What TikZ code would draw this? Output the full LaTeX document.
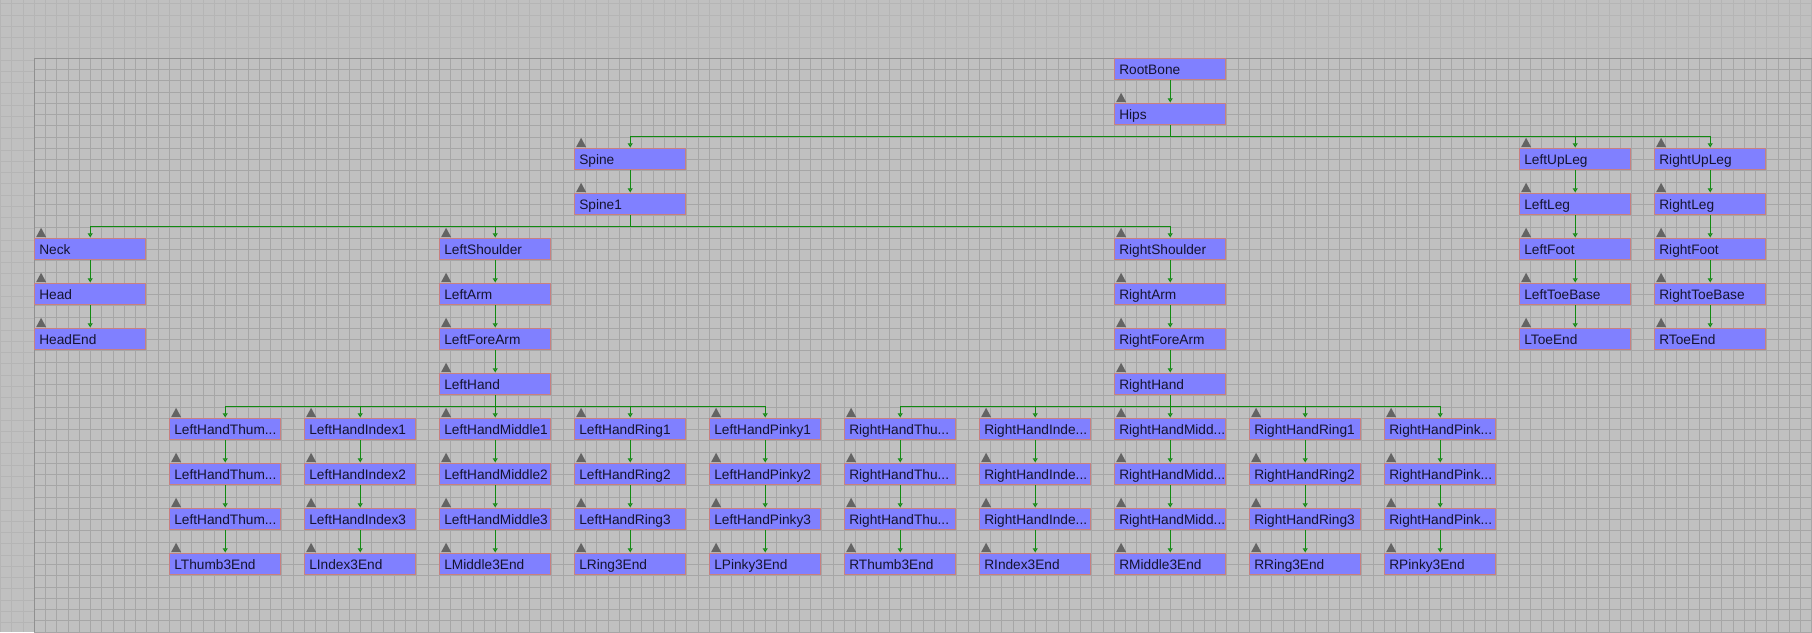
\documentclass[tikz,border=0pt]{standalone}
\usepackage{fontspec}
\setmainfont{Liberation Sans}
\usetikzlibrary{arrows.meta,calc}
\definecolor{bgcol}{HTML}{C0C0C0}
\definecolor{outergrid}{HTML}{B5B5B5}
\definecolor{innergrid}{HTML}{A6A6A6}
\definecolor{bordercol}{HTML}{909090}
\definecolor{bonefill}{HTML}{8080FF}
\definecolor{bonedraw}{HTML}{C88080}
\definecolor{bonetext}{HTML}{141430}
\definecolor{markcol}{HTML}{646464}
\definecolor{linkcol}{HTML}{108A10}
\newcommand\bone[4]{\node[bonebox] (#1) at ({34.3+135*#2},{-58.3-45*#3}) {#4};}
\tikzset{
  bonebox/.style={draw=bonedraw, fill=bonefill, line width=1pt, rectangle, anchor=north west,
    minimum width=110.8pt, minimum height=21pt, inner ysep=0pt, inner xsep=4.5pt,
    text width=101.8pt, align=left, text height=10.3pt, text depth=0pt,
    text=bonetext, font=\fontsize{13.7}{16}\selectfont},
  link/.style={draw=linkcol, line width=1pt, -{Triangle[open, length=4pt, width=5pt]}, shorten >=1pt},
  bonemark/.style={fill=markcol}
}
\begin{document}
\begin{tikzpicture}[x=1pt,y=1pt]
\useasboundingbox (0,0) rectangle (1812,-632);
\fill[bgcol] (0,0) rectangle (1812,-632);
% outer grid
\foreach \i in {0,...,161} \draw[outergrid, line width=0.9pt] ({0.55+11.25*\i},0) -- ({0.55+11.25*\i},-632);
\foreach \j in {0,...,56} \draw[outergrid, line width=0.9pt] (0,{-3.7-11.25*\j}) -- (1812,{-3.7-11.25*\j});
% inner area
\fill[bgcol] (34.3,-58.3) rectangle (1812,-632);
\foreach \i in {0,...,158} \draw[innergrid, line width=0.9pt] ({34.3+11.25*\i},-58.3) -- ({34.3+11.25*\i},-632);
\foreach \j in {0,...,51} \draw[innergrid, line width=0.9pt] (34.3,{-58.3-11.25*\j}) -- (1812,{-58.3-11.25*\j});
\draw[bordercol, line width=1.2pt] (34.3,-632) -- (34.3,-58.3) -- (1812,-58.3);
% bones
\bone{RootBone}{8}{0}{RootBone}
\bone{Hips}{8}{1}{Hips}
\bone{Spine}{4}{2}{Spine}
\bone{Spine1}{4}{3}{Spine1}
\bone{LeftUpLeg}{11}{2}{LeftUpLeg}
\bone{LeftLeg}{11}{3}{LeftLeg}
\bone{LeftFoot}{11}{4}{LeftFoot}
\bone{LeftToeBase}{11}{5}{LeftToeBase}
\bone{LToeEnd}{11}{6}{LToeEnd}
\bone{RightUpLeg}{12}{2}{RightUpLeg}
\bone{RightLeg}{12}{3}{RightLeg}
\bone{RightFoot}{12}{4}{RightFoot}
\bone{RightToeBase}{12}{5}{RightToeBase}
\bone{RToeEnd}{12}{6}{RToeEnd}
\bone{Neck}{0}{4}{Neck}
\bone{Head}{0}{5}{Head}
\bone{HeadEnd}{0}{6}{HeadEnd}
\bone{LeftShoulder}{3}{4}{LeftShoulder}
\bone{LeftArm}{3}{5}{LeftArm}
\bone{LeftForeArm}{3}{6}{LeftForeArm}
\bone{LeftHand}{3}{7}{LeftHand}
\bone{RightShoulder}{8}{4}{RightShoulder}
\bone{RightArm}{8}{5}{RightArm}
\bone{RightForeArm}{8}{6}{RightForeArm}
\bone{RightHand}{8}{7}{RightHand}
% left fingers
\bone{LThumbA}{1}{8}{LeftHandThum...}
\bone{LThumbB}{1}{9}{LeftHandThum...}
\bone{LThumbC}{1}{10}{LeftHandThum...}
\bone{LThumbE}{1}{11}{LThumb3End}
\bone{LIndexA}{2}{8}{LeftHandIndex1}
\bone{LIndexB}{2}{9}{LeftHandIndex2}
\bone{LIndexC}{2}{10}{LeftHandIndex3}
\bone{LIndexE}{2}{11}{LIndex3End}
\bone{LMiddleA}{3}{8}{LeftHandMiddle1}
\bone{LMiddleB}{3}{9}{LeftHandMiddle2}
\bone{LMiddleC}{3}{10}{LeftHandMiddle3}
\bone{LMiddleE}{3}{11}{LMiddle3End}
\bone{LRingA}{4}{8}{LeftHandRing1}
\bone{LRingB}{4}{9}{LeftHandRing2}
\bone{LRingC}{4}{10}{LeftHandRing3}
\bone{LRingE}{4}{11}{LRing3End}
\bone{LPinkyA}{5}{8}{LeftHandPinky1}
\bone{LPinkyB}{5}{9}{LeftHandPinky2}
\bone{LPinkyC}{5}{10}{LeftHandPinky3}
\bone{LPinkyE}{5}{11}{LPinky3End}
% right fingers
\bone{RThumbA}{6}{8}{RightHandThu...}
\bone{RThumbB}{6}{9}{RightHandThu...}
\bone{RThumbC}{6}{10}{RightHandThu...}
\bone{RThumbE}{6}{11}{RThumb3End}
\bone{RIndexA}{7}{8}{RightHandInde...}
\bone{RIndexB}{7}{9}{RightHandInde...}
\bone{RIndexC}{7}{10}{RightHandInde...}
\bone{RIndexE}{7}{11}{RIndex3End}
\bone{RMiddleA}{8}{8}{RightHandMidd...}
\bone{RMiddleB}{8}{9}{RightHandMidd...}
\bone{RMiddleC}{8}{10}{RightHandMidd...}
\bone{RMiddleE}{8}{11}{RMiddle3End}
\bone{RRingA}{9}{8}{RightHandRing1}
\bone{RRingB}{9}{9}{RightHandRing2}
\bone{RRingC}{9}{10}{RightHandRing3}
\bone{RRingE}{9}{11}{RRing3End}
\bone{RPinkyA}{10}{8}{RightHandPink...}
\bone{RPinkyB}{10}{9}{RightHandPink...}
\bone{RPinkyC}{10}{10}{RightHandPink...}
\bone{RPinkyE}{10}{11}{RPinky3End}
% markers
\foreach \n in {Hips,Spine,Spine1,LeftUpLeg,LeftLeg,LeftFoot,LeftToeBase,LToeEnd,
  RightUpLeg,RightLeg,RightFoot,RightToeBase,RToeEnd,Neck,Head,HeadEnd,
  LeftShoulder,LeftArm,LeftForeArm,LeftHand,RightShoulder,RightArm,RightForeArm,RightHand,
  LThumbA,LThumbB,LThumbC,LThumbE,LIndexA,LIndexB,LIndexC,LIndexE,
  LMiddleA,LMiddleB,LMiddleC,LMiddleE,LRingA,LRingB,LRingC,LRingE,
  LPinkyA,LPinkyB,LPinkyC,LPinkyE,RThumbA,RThumbB,RThumbC,RThumbE,
  RIndexA,RIndexB,RIndexC,RIndexE,RMiddleA,RMiddleB,RMiddleC,RMiddleE,
  RRingA,RRingB,RRingC,RRingE,RPinkyA,RPinkyB,RPinkyC,RPinkyE}
  \fill[bonemark] ($(\n.north west)+(1.8,1.2)$) -- ++(10,0) -- ++(-5,9.3) -- cycle;
% links
\foreach \p/\c in {RootBone/Hips, Hips/Spine, Hips/LeftUpLeg, Hips/RightUpLeg,
  Spine/Spine1, Spine1/Neck, Spine1/LeftShoulder, Spine1/RightShoulder,
  Neck/Head, Head/HeadEnd,
  LeftUpLeg/LeftLeg, LeftLeg/LeftFoot, LeftFoot/LeftToeBase, LeftToeBase/LToeEnd,
  RightUpLeg/RightLeg, RightLeg/RightFoot, RightFoot/RightToeBase, RightToeBase/RToeEnd,
  LeftShoulder/LeftArm, LeftArm/LeftForeArm, LeftForeArm/LeftHand,
  RightShoulder/RightArm, RightArm/RightForeArm, RightForeArm/RightHand,
  LeftHand/LThumbA, LeftHand/LIndexA, LeftHand/LMiddleA, LeftHand/LRingA, LeftHand/LPinkyA,
  RightHand/RThumbA, RightHand/RIndexA, RightHand/RMiddleA, RightHand/RRingA, RightHand/RPinkyA,
  LThumbA/LThumbB, LThumbB/LThumbC, LThumbC/LThumbE,
  LIndexA/LIndexB, LIndexB/LIndexC, LIndexC/LIndexE,
  LMiddleA/LMiddleB, LMiddleB/LMiddleC, LMiddleC/LMiddleE,
  LRingA/LRingB, LRingB/LRingC, LRingC/LRingE,
  LPinkyA/LPinkyB, LPinkyB/LPinkyC, LPinkyC/LPinkyE,
  RThumbA/RThumbB, RThumbB/RThumbC, RThumbC/RThumbE,
  RIndexA/RIndexB, RIndexB/RIndexC, RIndexC/RIndexE,
  RMiddleA/RMiddleB, RMiddleB/RMiddleC, RMiddleC/RMiddleE,
  RRingA/RRingB, RRingB/RRingC, RRingC/RRingE,
  RPinkyA/RPinkyB, RPinkyB/RPinkyC, RPinkyC/RPinkyE}
  \draw[link] (\p.south) -- ++(0,-11.3) -| (\c.north);
\end{tikzpicture}
\end{document}
